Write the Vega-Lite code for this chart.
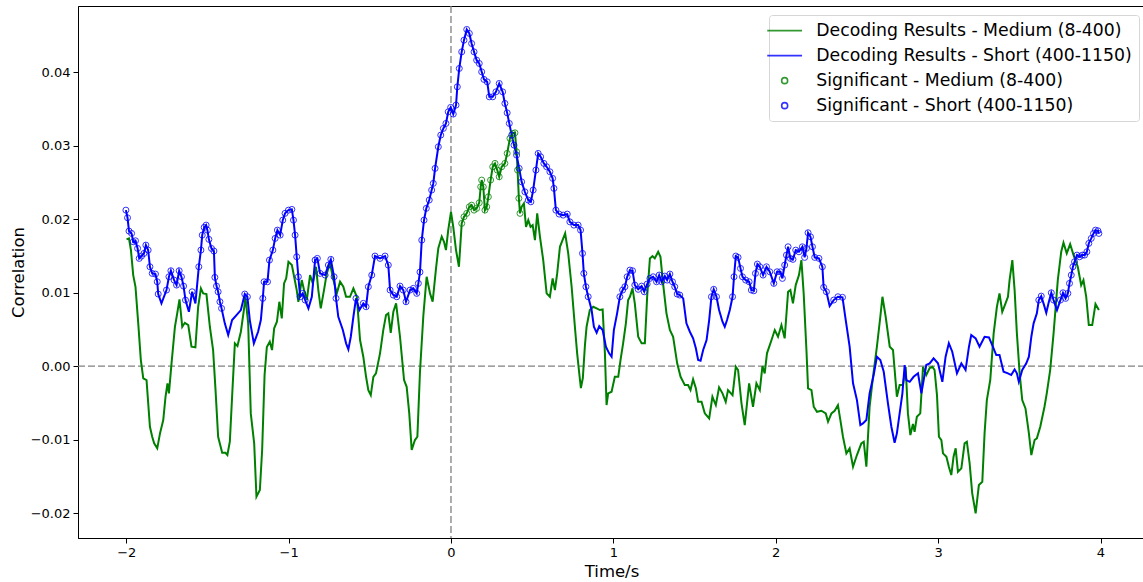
{
"$schema": "https://vega.github.io/schema/vega-lite/v6.json",
"width": 1067,
"height": 532,
"autosize": {"type": "none"},
"padding": {"left": 78, "top": 6, "right": 0, "bottom": 44},
"background": "white",
"config": {
  "view": {"stroke": "black", "strokeWidth": 1},
  "font": "DejaVu Sans",
  "axis": {"domainColor": "black", "tickColor": "black", "labelColor": "black", "titleColor": "black", "labelFont": "DejaVu Sans", "titleFont": "DejaVu Sans", "labelFontSize": 13, "titleFontSize": 16.5, "titleFontWeight": "normal", "grid": false, "tickSize": 5, "labelPadding": 3, "domainWidth": 1, "tickWidth": 1}
},
"datasets": {
"zero": [{"z": 0}],
"med": [
{"t":-1.998,"v":0.01724,"g":0},{"t":-1.983,"v":0.01737,"g":0},{"t":-1.971,"v":0.01578,"g":0},{"t":-1.957,"v":0.01238,"g":0},{"t":-1.943,"v":0.01079,"g":0},{"t":-1.926,"v":0.00581,"g":0},{"t":-1.910,"v":0.00082,"g":0},{"t":-1.895,"v":-0.00167,"g":0},{"t":-1.875,"v":-0.00190,"g":0},{"t":-1.854,"v":-0.00826,"g":0},{"t":-1.840,"v":-0.00962,"g":0},{"t":-1.828,"v":-0.01052,"g":0},{"t":-1.809,"v":-0.01120,"g":0},{"t":-1.792,"v":-0.00916,"g":0},{"t":-1.772,"v":-0.00735,"g":0},{"t":-1.758,"v":-0.00418,"g":0},{"t":-1.746,"v":-0.00235,"g":0},{"t":-1.737,"v":-0.00371,"g":0},{"t":-1.721,"v":0.00037,"g":0},{"t":-1.700,"v":0.00535,"g":0},{"t":-1.686,"v":0.00717,"g":0},{"t":-1.672,"v":0.00907,"g":0},{"t":-1.655,"v":0.00535,"g":0},{"t":-1.639,"v":0.00589,"g":0},{"t":-1.618,"v":0.00558,"g":0},{"t":-1.598,"v":0.00263,"g":0},{"t":-1.574,"v":0.00254,"g":0},{"t":-1.557,"v":0.00807,"g":0},{"t":-1.540,"v":0.01057,"g":0},{"t":-1.526,"v":0.00989,"g":0},{"t":-1.506,"v":0.00980,"g":0},{"t":-1.485,"v":0.00535,"g":0},{"t":-1.465,"v":0.00218,"g":0},{"t":-1.450,"v":-0.00327,"g":0},{"t":-1.434,"v":-0.00962,"g":0},{"t":-1.409,"v":-0.01180,"g":0},{"t":-1.389,"v":-0.01180,"g":0},{"t":-1.377,"v":-0.01211,"g":0},{"t":-1.362,"v":-0.01030,"g":0},{"t":-1.348,"v":-0.00418,"g":0},{"t":-1.331,"v":0.00309,"g":0},{"t":-1.315,"v":0.00272,"g":0},{"t":-1.294,"v":0.00467,"g":0},{"t":-1.274,"v":0.00785,"g":0},{"t":-1.266,"v":0.00943,"g":0},{"t":-1.249,"v":0.00581,"g":0},{"t":-1.233,"v":-0.00644,"g":0},{"t":-1.212,"v":-0.01052,"g":0},{"t":-1.198,"v":-0.01778,"g":0},{"t":-1.177,"v":-0.01687,"g":0},{"t":-1.163,"v":-0.01143,"g":0},{"t":-1.148,"v":-0.00122,"g":0},{"t":-1.134,"v":0.00259,"g":0},{"t":-1.116,"v":0.00331,"g":0},{"t":-1.102,"v":0.00218,"g":0},{"t":-1.089,"v":0.00513,"g":0},{"t":-1.072,"v":0.00603,"g":0},{"t":-1.057,"v":0.00875,"g":0},{"t":-1.042,"v":0.00649,"g":0},{"t":-1.028,"v":0.01125,"g":0},{"t":-1.015,"v":0.01193,"g":0},{"t":-1.001,"v":0.01419,"g":0},{"t":-0.980,"v":0.01374,"g":0},{"t":-0.966,"v":0.01215,"g":0},{"t":-0.950,"v":0.01034,"g":0},{"t":-0.940,"v":0.00875,"g":0},{"t":-0.919,"v":0.01170,"g":0},{"t":-0.905,"v":0.01034,"g":0},{"t":-0.888,"v":0.00898,"g":0},{"t":-0.868,"v":0.01238,"g":0},{"t":-0.851,"v":0.01125,"g":0},{"t":-0.831,"v":0.01351,"g":0},{"t":-0.817,"v":0.01034,"g":0},{"t":-0.802,"v":0.00785,"g":0},{"t":-0.782,"v":0.01034,"g":0},{"t":-0.765,"v":0.01261,"g":0},{"t":-0.745,"v":0.01397,"g":0},{"t":-0.724,"v":0.01170,"g":0},{"t":-0.703,"v":0.00989,"g":0},{"t":-0.683,"v":0.01147,"g":0},{"t":-0.663,"v":0.01079,"g":0},{"t":-0.646,"v":0.00943,"g":0},{"t":-0.622,"v":0.00943,"g":0},{"t":-0.601,"v":0.01057,"g":0},{"t":-0.580,"v":0.00943,"g":0},{"t":-0.560,"v":0.00354,"g":0},{"t":-0.540,"v":0.00127,"g":0},{"t":-0.523,"v":-0.00146,"g":0},{"t":-0.509,"v":-0.00327,"g":0},{"t":-0.494,"v":-0.00395,"g":0},{"t":-0.478,"v":-0.00146,"g":0},{"t":-0.462,"v":-0.00099,"g":0},{"t":-0.437,"v":0.00173,"g":0},{"t":-0.417,"v":0.00490,"g":0},{"t":-0.400,"v":0.00694,"g":0},{"t":-0.386,"v":0.00717,"g":0},{"t":-0.371,"v":0.00453,"g":0},{"t":-0.355,"v":0.00739,"g":0},{"t":-0.338,"v":0.00853,"g":0},{"t":-0.314,"v":0.00399,"g":0},{"t":-0.289,"v":-0.00190,"g":0},{"t":-0.273,"v":-0.00282,"g":0},{"t":-0.257,"v":-0.00644,"g":0},{"t":-0.242,"v":-0.01143,"g":0},{"t":-0.222,"v":-0.01007,"g":0},{"t":-0.207,"v":-0.00962,"g":0},{"t":-0.191,"v":-0.00082,"g":0},{"t":-0.170,"v":0.00694,"g":0},{"t":-0.150,"v":0.01215,"g":0},{"t":-0.129,"v":0.00989,"g":0},{"t":-0.113,"v":0.00875,"g":0},{"t":-0.092,"v":0.01333,"g":0},{"t":-0.078,"v":0.01605,"g":0},{"t":-0.057,"v":0.01762,"g":0},{"t":-0.043,"v":0.01691,"g":0},{"t":-0.031,"v":0.01578,"g":0},{"t":-0.017,"v":0.01850,"g":0},{"t":0.000,"v":0.02099,"g":0},{"t":0.014,"v":0.01895,"g":0},{"t":0.031,"v":0.01578,"g":0},{"t":0.049,"v":0.01351,"g":0},
{"t":0.066,"v":0.01941,"g":1},{"t":0.080,"v":0.02031,"g":1},{"t":0.097,"v":0.02078,"g":1},{"t":0.113,"v":0.02167,"g":1},{"t":0.127,"v":0.02190,"g":1},{"t":0.142,"v":0.02122,"g":1},{"t":0.158,"v":0.02146,"g":1},{"t":0.174,"v":0.02222,"g":1},{"t":0.183,"v":0.02439,"g":1},{"t":0.189,"v":0.02531,"g":1},{"t":0.199,"v":0.02439,"g":1},{"t":0.209,"v":0.02122,"g":1},{"t":0.220,"v":0.02167,"g":1},{"t":0.230,"v":0.02303,"g":1},{"t":0.244,"v":0.02531,"g":1},{"t":0.257,"v":0.02712,"g":1},{"t":0.271,"v":0.02758,"g":1},{"t":0.285,"v":0.02667,"g":1},{"t":0.297,"v":0.02576,"g":1},{"t":0.312,"v":0.02712,"g":1},{"t":0.332,"v":0.02758,"g":1},{"t":0.346,"v":0.02894,"g":1},{"t":0.363,"v":0.03098,"g":1},{"t":0.380,"v":0.03166,"g":1},{"t":0.394,"v":0.03174,"g":1},{"t":0.404,"v":0.02916,"g":1},{"t":0.410,"v":0.02667,"g":1},{"t":0.418,"v":0.02282,"g":1},{"t":0.425,"v":0.02078,"g":1},
{"t":0.435,"v":0.02167,"g":0},{"t":0.449,"v":0.02214,"g":0},{"t":0.462,"v":0.01895,"g":0},{"t":0.476,"v":0.01986,"g":0},{"t":0.490,"v":0.01895,"g":0},{"t":0.503,"v":0.01918,"g":0},{"t":0.517,"v":0.01714,"g":0},{"t":0.531,"v":0.02078,"g":0},{"t":0.548,"v":0.01759,"g":0},{"t":0.568,"v":0.01442,"g":0},{"t":0.589,"v":0.00989,"g":0},{"t":0.609,"v":0.00943,"g":0},{"t":0.626,"v":0.01193,"g":0},{"t":0.640,"v":0.01034,"g":0},{"t":0.654,"v":0.01261,"g":0},{"t":0.671,"v":0.01623,"g":0},{"t":0.687,"v":0.01714,"g":0},{"t":0.703,"v":0.01805,"g":0},{"t":0.722,"v":0.01533,"g":0},{"t":0.743,"v":0.01079,"g":0},{"t":0.763,"v":0.00535,"g":0},{"t":0.777,"v":0.00173,"g":0},{"t":0.791,"v":-0.00122,"g":0},{"t":0.800,"v":-0.00299,"g":0},{"t":0.812,"v":-0.00163,"g":0},{"t":0.825,"v":0.00286,"g":0},{"t":0.835,"v":0.00535,"g":0},{"t":0.855,"v":0.00762,"g":0},{"t":0.876,"v":0.00807,"g":0},{"t":0.897,"v":0.00785,"g":0},{"t":0.917,"v":0.00762,"g":0},{"t":0.934,"v":0.00771,"g":0},{"t":0.948,"v":0.00173,"g":0},{"t":0.958,"v":-0.00531,"g":0},{"t":0.968,"v":-0.00371,"g":0},{"t":0.989,"v":-0.00350,"g":0},{"t":1.009,"v":-0.00146,"g":0},{"t":1.030,"v":-0.00146,"g":0},{"t":1.044,"v":0.00082,"g":0},{"t":1.060,"v":0.00309,"g":0},{"t":1.077,"v":0.00581,"g":0},{"t":1.091,"v":0.00898,"g":0},{"t":1.102,"v":0.00943,"g":0},{"t":1.118,"v":0.01057,"g":0},{"t":1.132,"v":0.00853,"g":0},{"t":1.153,"v":0.00399,"g":0},{"t":1.174,"v":0.00309,"g":0},{"t":1.194,"v":0.00309,"g":0},{"t":1.208,"v":0.00943,"g":0},{"t":1.225,"v":0.01465,"g":0},{"t":1.241,"v":0.01497,"g":0},{"t":1.255,"v":0.01465,"g":0},{"t":1.276,"v":0.01555,"g":0},{"t":1.290,"v":0.01487,"g":0},{"t":1.306,"v":0.01125,"g":0},{"t":1.327,"v":0.00717,"g":0},{"t":1.348,"v":0.00490,"g":0},{"t":1.368,"v":0.00399,"g":0},{"t":1.393,"v":0.00037,"g":0},{"t":1.414,"v":-0.00146,"g":0},{"t":1.440,"v":-0.00259,"g":0},{"t":1.460,"v":-0.00259,"g":0},{"t":1.475,"v":-0.00327,"g":0},{"t":1.491,"v":-0.00181,"g":0},{"t":1.508,"v":-0.00303,"g":0},{"t":1.522,"v":-0.00486,"g":0},{"t":1.543,"v":-0.00486,"g":0},{"t":1.563,"v":-0.00644,"g":0},{"t":1.590,"v":-0.00712,"g":0},{"t":1.610,"v":-0.00418,"g":0},{"t":1.631,"v":-0.00531,"g":0},{"t":1.651,"v":-0.00290,"g":0},{"t":1.672,"v":-0.00371,"g":0},{"t":1.692,"v":-0.00486,"g":0},{"t":1.706,"v":-0.00327,"g":0},{"t":1.734,"v":-0.00395,"g":0},{"t":1.754,"v":-0.00010,"g":0},{"t":1.768,"v":-0.00054,"g":0},{"t":1.789,"v":-0.00507,"g":0},{"t":1.809,"v":-0.00803,"g":0},{"t":1.836,"v":-0.00235,"g":0},{"t":1.860,"v":-0.00554,"g":0},{"t":1.881,"v":-0.00235,"g":0},{"t":1.902,"v":-0.00327,"g":0},{"t":1.918,"v":0.00000,"g":0},{"t":1.932,"v":-0.00099,"g":0},{"t":1.946,"v":0.00173,"g":0},{"t":1.974,"v":0.00354,"g":0},{"t":1.994,"v":0.00490,"g":0},{"t":2.014,"v":0.00399,"g":0},{"t":2.035,"v":0.00558,"g":0},{"t":2.055,"v":0.00377,"g":0},{"t":2.076,"v":0.01011,"g":0},{"t":2.090,"v":0.01034,"g":0},{"t":2.106,"v":0.00853,"g":0},{"t":2.123,"v":0.01102,"g":0},{"t":2.143,"v":0.01238,"g":0},{"t":2.158,"v":0.01442,"g":0},{"t":2.172,"v":0.00989,"g":0},{"t":2.189,"v":0.00218,"g":0},{"t":2.199,"v":-0.00303,"g":0},{"t":2.220,"v":-0.00327,"g":0},{"t":2.234,"v":-0.00554,"g":0},{"t":2.254,"v":-0.00622,"g":0},{"t":2.281,"v":-0.00608,"g":0},{"t":2.308,"v":-0.00644,"g":0},{"t":2.322,"v":-0.00758,"g":0},{"t":2.343,"v":-0.00644,"g":0},{"t":2.363,"v":-0.00608,"g":0},{"t":2.383,"v":-0.00531,"g":0},{"t":2.398,"v":-0.00735,"g":0},{"t":2.414,"v":-0.00962,"g":0},{"t":2.435,"v":-0.01188,"g":0},{"t":2.455,"v":-0.01120,"g":0},{"t":2.476,"v":-0.01370,"g":0},{"t":2.500,"v":-0.01211,"g":0},{"t":2.527,"v":-0.01052,"g":0},{"t":2.542,"v":-0.01030,"g":0},{"t":2.558,"v":-0.01370,"g":0},{"t":2.578,"v":-0.00554,"g":0},{"t":2.599,"v":-0.00146,"g":0},{"t":2.623,"v":0.00263,"g":0},{"t":2.644,"v":0.00671,"g":0},{"t":2.657,"v":0.00943,"g":0},{"t":2.677,"v":0.00671,"g":0},{"t":2.702,"v":0.00263,"g":0},{"t":2.722,"v":0.00218,"g":0},{"t":2.746,"v":-0.00418,"g":0},{"t":2.763,"v":-0.00259,"g":0},{"t":2.783,"v":-0.00259,"g":0},{"t":2.800,"v":-0.00010,"g":0},{"t":2.814,"v":-0.00644,"g":0},{"t":2.829,"v":-0.00939,"g":0},{"t":2.845,"v":-0.00789,"g":0},{"t":2.855,"v":-0.00894,"g":0},{"t":2.869,"v":-0.00690,"g":0},{"t":2.890,"v":-0.00644,"g":0},{"t":2.907,"v":-0.00010,"g":0},{"t":2.927,"v":-0.00122,"g":0},{"t":2.948,"v":-0.00027,"g":0},{"t":2.965,"v":-0.00010,"g":0},{"t":2.978,"v":-0.00054,"g":0},{"t":2.993,"v":-0.00395,"g":0},{"t":3.005,"v":-0.00962,"g":0},{"t":3.020,"v":-0.01007,"g":0},{"t":3.030,"v":-0.01188,"g":0},{"t":3.051,"v":-0.01234,"g":0},{"t":3.066,"v":-0.01370,"g":0},{"t":3.081,"v":-0.01483,"g":0},{"t":3.095,"v":-0.01234,"g":0},{"t":3.108,"v":-0.01120,"g":0},{"t":3.122,"v":-0.01438,"g":0},{"t":3.143,"v":-0.01392,"g":0},{"t":3.163,"v":-0.01052,"g":0},{"t":3.177,"v":-0.01030,"g":0},{"t":3.194,"v":-0.01324,"g":0},{"t":3.210,"v":-0.01732,"g":0},{"t":3.231,"v":-0.02004,"g":0},{"t":3.251,"v":-0.01619,"g":0},{"t":3.272,"v":-0.01574,"g":0},{"t":3.286,"v":-0.00916,"g":0},{"t":3.300,"v":-0.00463,"g":0},{"t":3.321,"v":-0.00190,"g":0},{"t":3.342,"v":0.00445,"g":0},{"t":3.362,"v":0.00807,"g":0},{"t":3.378,"v":0.00989,"g":0},{"t":3.395,"v":0.00739,"g":0},{"t":3.415,"v":0.00853,"g":0},{"t":3.430,"v":0.00943,"g":0},{"t":3.440,"v":0.01170,"g":0},{"t":3.457,"v":0.01442,"g":0},{"t":3.471,"v":0.01034,"g":0},{"t":3.485,"v":0.00445,"g":0},{"t":3.502,"v":-0.00099,"g":0},{"t":3.518,"v":-0.00463,"g":0},{"t":3.538,"v":-0.00576,"g":0},{"t":3.559,"v":-0.00916,"g":0},{"t":3.574,"v":-0.01211,"g":0},{"t":3.594,"v":-0.01007,"g":0},{"t":3.608,"v":-0.00984,"g":0},{"t":3.629,"v":-0.00826,"g":0},{"t":3.655,"v":-0.00554,"g":0},{"t":3.669,"v":-0.00371,"g":0},{"t":3.690,"v":-0.00054,"g":0},{"t":3.711,"v":0.00445,"g":0},{"t":3.737,"v":0.01170,"g":0},{"t":3.758,"v":0.01555,"g":0},{"t":3.772,"v":0.01678,"g":0},{"t":3.792,"v":0.01533,"g":0},{"t":3.813,"v":0.01660,"g":0},{"t":3.834,"v":0.01510,"g":0},{"t":3.860,"v":0.01351,"g":0},{"t":3.881,"v":0.01102,"g":0},{"t":3.895,"v":0.01170,"g":0},{"t":3.912,"v":0.00943,"g":0},{"t":3.928,"v":0.00558,"g":0},{"t":3.949,"v":0.00558,"g":0},{"t":3.969,"v":0.00844,"g":0},{"t":3.990,"v":0.00762,"g":0}
],
"sho": [
{"t":-2.002,"v":0.02122,"g":1},{"t":-1.992,"v":0.02018,"g":1},{"t":-1.983,"v":0.01837,"g":1},{"t":-1.967,"v":0.01805,"g":1},{"t":-1.957,"v":0.01691,"g":1},{"t":-1.943,"v":0.01705,"g":1},{"t":-1.930,"v":0.01601,"g":1},{"t":-1.920,"v":0.01465,"g":1},{"t":-1.906,"v":0.01497,"g":1},{"t":-1.891,"v":0.01533,"g":1},{"t":-1.879,"v":0.01646,"g":1},{"t":-1.865,"v":0.01578,"g":1},{"t":-1.854,"v":0.01351,"g":1},{"t":-1.840,"v":0.01261,"g":1},{"t":-1.820,"v":0.01252,"g":1},{"t":-1.809,"v":0.01147,"g":1},{"t":-1.803,"v":0.00980,"g":1},{"t":-1.783,"v":0.00853,"g":0},{"t":-1.752,"v":0.01034,"g":1},{"t":-1.737,"v":0.01215,"g":1},{"t":-1.725,"v":0.01297,"g":1},{"t":-1.705,"v":0.01170,"g":1},{"t":-1.690,"v":0.01102,"g":1},{"t":-1.674,"v":0.01297,"g":1},{"t":-1.660,"v":0.01215,"g":1},{"t":-1.647,"v":0.01088,"g":1},{"t":-1.635,"v":0.00898,"g":1},{"t":-1.614,"v":0.00739,"g":0},{"t":-1.594,"v":0.01011,"g":1},{"t":-1.574,"v":0.00853,"g":0},{"t":-1.553,"v":0.01351,"g":1},{"t":-1.540,"v":0.01578,"g":1},{"t":-1.532,"v":0.01782,"g":1},{"t":-1.520,"v":0.01887,"g":1},{"t":-1.508,"v":0.01918,"g":1},{"t":-1.500,"v":0.01850,"g":1},{"t":-1.491,"v":0.01724,"g":1},{"t":-1.475,"v":0.01601,"g":1},{"t":-1.460,"v":0.01565,"g":1},{"t":-1.454,"v":0.01207,"g":1},{"t":-1.444,"v":0.01088,"g":1},{"t":-1.434,"v":0.01011,"g":1},{"t":-1.423,"v":0.00875,"g":1},{"t":-1.413,"v":0.00785,"g":1},{"t":-1.393,"v":0.00581,"g":0},{"t":-1.372,"v":0.00422,"g":0},{"t":-1.348,"v":0.00626,"g":0},{"t":-1.321,"v":0.00694,"g":0},{"t":-1.294,"v":0.00762,"g":0},{"t":-1.270,"v":0.00980,"g":1},{"t":-1.254,"v":0.00943,"g":1},{"t":-1.239,"v":0.00626,"g":0},{"t":-1.214,"v":0.00309,"g":0},{"t":-1.188,"v":0.00467,"g":0},{"t":-1.171,"v":0.00626,"g":0},{"t":-1.159,"v":0.00921,"g":1},{"t":-1.151,"v":0.01147,"g":1},{"t":-1.130,"v":0.01147,"g":1},{"t":-1.118,"v":0.01442,"g":1},{"t":-1.097,"v":0.01578,"g":1},{"t":-1.083,"v":0.01737,"g":1},{"t":-1.069,"v":0.01850,"g":1},{"t":-1.052,"v":0.01782,"g":1},{"t":-1.036,"v":0.01986,"g":1},{"t":-1.022,"v":0.02078,"g":1},{"t":-1.001,"v":0.02122,"g":1},{"t":-0.980,"v":0.02132,"g":1},{"t":-0.970,"v":0.01986,"g":1},{"t":-0.960,"v":0.01782,"g":1},{"t":-0.950,"v":0.01487,"g":1},{"t":-0.940,"v":0.01215,"g":1},{"t":-0.929,"v":0.00943,"g":1},{"t":-0.913,"v":0.00989,"g":1},{"t":-0.898,"v":0.00898,"g":1},{"t":-0.878,"v":0.00785,"g":0},{"t":-0.857,"v":0.00943,"g":0},{"t":-0.837,"v":0.01442,"g":1},{"t":-0.823,"v":0.01465,"g":1},{"t":-0.806,"v":0.01261,"g":1},{"t":-0.775,"v":0.01238,"g":1},{"t":-0.755,"v":0.01374,"g":1},{"t":-0.740,"v":0.01452,"g":1},{"t":-0.720,"v":0.01215,"g":1},{"t":-0.708,"v":0.00921,"g":1},{"t":-0.694,"v":0.00671,"g":0},{"t":-0.666,"v":0.00490,"g":0},{"t":-0.646,"v":0.00309,"g":0},{"t":-0.632,"v":0.00227,"g":0},{"t":-0.617,"v":0.00399,"g":0},{"t":-0.601,"v":0.00671,"g":0},{"t":-0.585,"v":0.00921,"g":1},{"t":-0.564,"v":0.00762,"g":0},{"t":-0.540,"v":0.00853,"g":1},{"t":-0.523,"v":0.00807,"g":1},{"t":-0.509,"v":0.01079,"g":1},{"t":-0.488,"v":0.01238,"g":1},{"t":-0.468,"v":0.01497,"g":1},{"t":-0.437,"v":0.01465,"g":1},{"t":-0.406,"v":0.01497,"g":1},{"t":-0.386,"v":0.01374,"g":1},{"t":-0.375,"v":0.01034,"g":1},{"t":-0.355,"v":0.00966,"g":1},{"t":-0.334,"v":0.00943,"g":1},{"t":-0.314,"v":0.01088,"g":1},{"t":-0.294,"v":0.01034,"g":1},{"t":-0.277,"v":0.00875,"g":1},{"t":-0.252,"v":0.01034,"g":1},{"t":-0.232,"v":0.01057,"g":1},{"t":-0.211,"v":0.00989,"g":1},{"t":-0.201,"v":0.01125,"g":1},{"t":-0.191,"v":0.01279,"g":1},{"t":-0.180,"v":0.01714,"g":1},{"t":-0.166,"v":0.01986,"g":1},{"t":-0.152,"v":0.02146,"g":1},{"t":-0.134,"v":0.02259,"g":1},{"t":-0.119,"v":0.02395,"g":1},{"t":-0.109,"v":0.02486,"g":1},{"t":-0.098,"v":0.02690,"g":1},{"t":-0.078,"v":0.02984,"g":1},{"t":-0.063,"v":0.03143,"g":1},{"t":-0.047,"v":0.03234,"g":1},{"t":-0.031,"v":0.03302,"g":1},{"t":-0.017,"v":0.03460,"g":1},{"t":-0.002,"v":0.03520,"g":1},{"t":0.014,"v":0.03429,"g":1},{"t":0.031,"v":0.03551,"g":1},{"t":0.039,"v":0.03800,"g":1},{"t":0.051,"v":0.04050,"g":1},{"t":0.066,"v":0.04276,"g":1},{"t":0.080,"v":0.04435,"g":1},{"t":0.097,"v":0.04581,"g":1},{"t":0.113,"v":0.04527,"g":1},{"t":0.127,"v":0.04390,"g":1},{"t":0.142,"v":0.04276,"g":1},{"t":0.158,"v":0.04163,"g":1},{"t":0.174,"v":0.04118,"g":1},{"t":0.189,"v":0.04004,"g":1},{"t":0.203,"v":0.03901,"g":1},{"t":0.223,"v":0.03868,"g":1},{"t":0.236,"v":0.03664,"g":1},{"t":0.257,"v":0.03664,"g":1},{"t":0.277,"v":0.03732,"g":1},{"t":0.297,"v":0.03846,"g":1},{"t":0.318,"v":0.03732,"g":1},{"t":0.332,"v":0.03574,"g":1},{"t":0.346,"v":0.03446,"g":1},{"t":0.359,"v":0.03302,"g":1},{"t":0.374,"v":0.03143,"g":1},{"t":0.388,"v":0.03007,"g":1},{"t":0.404,"v":0.02871,"g":1},{"t":0.420,"v":0.02690,"g":1},{"t":0.435,"v":0.02507,"g":1},{"t":0.455,"v":0.02371,"g":1},{"t":0.476,"v":0.02259,"g":1},{"t":0.492,"v":0.02235,"g":1},{"t":0.506,"v":0.02395,"g":1},{"t":0.523,"v":0.02667,"g":1},{"t":0.537,"v":0.02894,"g":1},{"t":0.552,"v":0.02848,"g":1},{"t":0.572,"v":0.02758,"g":1},{"t":0.589,"v":0.02712,"g":1},{"t":0.609,"v":0.02644,"g":1},{"t":0.626,"v":0.02554,"g":1},{"t":0.634,"v":0.02418,"g":1},{"t":0.646,"v":0.02122,"g":1},{"t":0.666,"v":0.02068,"g":1},{"t":0.691,"v":0.02054,"g":1},{"t":0.716,"v":0.02068,"g":1},{"t":0.732,"v":0.01963,"g":1},{"t":0.757,"v":0.01918,"g":1},{"t":0.783,"v":0.01918,"g":1},{"t":0.798,"v":0.01850,"g":1},{"t":0.810,"v":0.01533,"g":1},{"t":0.818,"v":0.01261,"g":1},{"t":0.831,"v":0.01079,"g":1},{"t":0.845,"v":0.00943,"g":1},{"t":0.866,"v":0.00762,"g":0},{"t":0.880,"v":0.00535,"g":0},{"t":0.897,"v":0.00453,"g":0},{"t":0.913,"v":0.00544,"g":0},{"t":0.934,"v":0.00490,"g":0},{"t":0.954,"v":0.00263,"g":0},{"t":0.974,"v":0.00173,"g":0},{"t":0.989,"v":0.00127,"g":0},{"t":1.003,"v":0.00490,"g":0},{"t":1.023,"v":0.00717,"g":0},{"t":1.040,"v":0.00943,"g":1},{"t":1.057,"v":0.01034,"g":1},{"t":1.071,"v":0.01079,"g":1},{"t":1.085,"v":0.01215,"g":1},{"t":1.102,"v":0.01306,"g":1},{"t":1.118,"v":0.01297,"g":1},{"t":1.132,"v":0.01102,"g":1},{"t":1.153,"v":0.01044,"g":1},{"t":1.174,"v":0.01088,"g":1},{"t":1.190,"v":0.01011,"g":1},{"t":1.208,"v":0.01116,"g":1},{"t":1.225,"v":0.01193,"g":1},{"t":1.245,"v":0.01215,"g":1},{"t":1.266,"v":0.01147,"g":1},{"t":1.282,"v":0.01238,"g":1},{"t":1.297,"v":0.01147,"g":1},{"t":1.317,"v":0.01224,"g":1},{"t":1.331,"v":0.01170,"g":1},{"t":1.348,"v":0.01252,"g":1},{"t":1.364,"v":0.01147,"g":1},{"t":1.378,"v":0.01079,"g":1},{"t":1.393,"v":0.00980,"g":1},{"t":1.409,"v":0.00966,"g":1},{"t":1.430,"v":0.00921,"g":0},{"t":1.450,"v":0.00581,"g":0},{"t":1.471,"v":0.00467,"g":0},{"t":1.491,"v":0.00377,"g":0},{"t":1.508,"v":0.00241,"g":0},{"t":1.522,"v":0.00082,"g":0},{"t":1.537,"v":0.00072,"g":0},{"t":1.553,"v":0.00218,"g":0},{"t":1.574,"v":0.00354,"g":0},{"t":1.590,"v":0.00626,"g":0},{"t":1.604,"v":0.00943,"g":1},{"t":1.618,"v":0.01044,"g":1},{"t":1.635,"v":0.00943,"g":1},{"t":1.651,"v":0.00762,"g":0},{"t":1.672,"v":0.00603,"g":0},{"t":1.686,"v":0.00535,"g":0},{"t":1.700,"v":0.00626,"g":0},{"t":1.717,"v":0.00762,"g":0},{"t":1.734,"v":0.00943,"g":1},{"t":1.743,"v":0.01215,"g":1},{"t":1.754,"v":0.01497,"g":1},{"t":1.768,"v":0.01479,"g":1},{"t":1.783,"v":0.01329,"g":1},{"t":1.795,"v":0.01215,"g":1},{"t":1.815,"v":0.01170,"g":1},{"t":1.836,"v":0.01147,"g":1},{"t":1.850,"v":0.01034,"g":1},{"t":1.865,"v":0.01024,"g":1},{"t":1.875,"v":0.01261,"g":1},{"t":1.887,"v":0.01388,"g":1},{"t":1.902,"v":0.01351,"g":1},{"t":1.922,"v":0.01238,"g":1},{"t":1.943,"v":0.01351,"g":1},{"t":1.963,"v":0.01283,"g":1},{"t":1.988,"v":0.01125,"g":1},{"t":2.008,"v":0.01283,"g":1},{"t":2.029,"v":0.01283,"g":1},{"t":2.041,"v":0.01193,"g":1},{"t":2.055,"v":0.01374,"g":1},{"t":2.066,"v":0.01510,"g":1},{"t":2.076,"v":0.01623,"g":1},{"t":2.090,"v":0.01465,"g":1},{"t":2.106,"v":0.01452,"g":1},{"t":2.123,"v":0.01578,"g":1},{"t":2.143,"v":0.01555,"g":1},{"t":2.164,"v":0.01623,"g":1},{"t":2.178,"v":0.01479,"g":1},{"t":2.189,"v":0.01601,"g":1},{"t":2.199,"v":0.01814,"g":1},{"t":2.214,"v":0.01759,"g":1},{"t":2.226,"v":0.01623,"g":1},{"t":2.240,"v":0.01479,"g":1},{"t":2.266,"v":0.01465,"g":1},{"t":2.287,"v":0.01351,"g":1},{"t":2.295,"v":0.01071,"g":1},{"t":2.312,"v":0.01011,"g":1},{"t":2.332,"v":0.00816,"g":0},{"t":2.357,"v":0.00898,"g":1},{"t":2.383,"v":0.00943,"g":1},{"t":2.411,"v":0.00935,"g":1},{"t":2.431,"v":0.00626,"g":0},{"t":2.455,"v":0.00263,"g":0},{"t":2.476,"v":-0.00235,"g":0},{"t":2.500,"v":-0.00463,"g":0},{"t":2.521,"v":-0.00803,"g":0},{"t":2.537,"v":-0.00780,"g":0},{"t":2.558,"v":-0.00735,"g":0},{"t":2.578,"v":-0.00371,"g":0},{"t":2.603,"v":-0.00122,"g":0},{"t":2.623,"v":0.00127,"g":0},{"t":2.644,"v":0.00082,"g":0},{"t":2.665,"v":-0.00078,"g":0},{"t":2.691,"v":-0.00507,"g":0},{"t":2.712,"v":-0.00826,"g":0},{"t":2.732,"v":-0.01044,"g":0},{"t":2.746,"v":-0.00916,"g":0},{"t":2.763,"v":-0.00644,"g":0},{"t":2.780,"v":-0.00371,"g":0},{"t":2.794,"v":0.00014,"g":0},{"t":2.804,"v":-0.00190,"g":0},{"t":2.825,"v":-0.00214,"g":0},{"t":2.849,"v":-0.00146,"g":0},{"t":2.876,"v":-0.00099,"g":0},{"t":2.897,"v":-0.00371,"g":0},{"t":2.911,"v":-0.00190,"g":0},{"t":2.927,"v":0.00014,"g":0},{"t":2.948,"v":0.00037,"g":0},{"t":2.972,"v":0.00105,"g":0},{"t":2.999,"v":0.00037,"g":0},{"t":3.026,"v":-0.00214,"g":0},{"t":3.046,"v":0.00127,"g":0},{"t":3.066,"v":0.00309,"g":0},{"t":3.087,"v":0.00195,"g":0},{"t":3.116,"v":-0.00099,"g":0},{"t":3.143,"v":0.00037,"g":0},{"t":3.169,"v":-0.00054,"g":0},{"t":3.190,"v":0.00263,"g":0},{"t":3.204,"v":0.00422,"g":0},{"t":3.231,"v":0.00377,"g":0},{"t":3.255,"v":0.00263,"g":0},{"t":3.286,"v":0.00399,"g":0},{"t":3.313,"v":0.00390,"g":0},{"t":3.337,"v":0.00263,"g":0},{"t":3.358,"v":0.00150,"g":0},{"t":3.378,"v":0.00150,"g":0},{"t":3.403,"v":-0.00078,"g":0},{"t":3.430,"v":-0.00099,"g":0},{"t":3.450,"v":-0.00122,"g":0},{"t":3.471,"v":-0.00045,"g":0},{"t":3.485,"v":-0.00099,"g":0},{"t":3.497,"v":-0.00214,"g":0},{"t":3.518,"v":-0.00054,"g":0},{"t":3.543,"v":0.00037,"g":0},{"t":3.559,"v":0.00127,"g":0},{"t":3.574,"v":0.00399,"g":0},{"t":3.588,"v":0.00581,"g":0},{"t":3.608,"v":0.00717,"g":0},{"t":3.620,"v":0.00898,"g":1},{"t":3.635,"v":0.00952,"g":1},{"t":3.649,"v":0.00853,"g":0},{"t":3.666,"v":0.00725,"g":0},{"t":3.682,"v":0.00875,"g":0},{"t":3.697,"v":0.00997,"g":1},{"t":3.711,"v":0.00898,"g":1},{"t":3.732,"v":0.00762,"g":0},{"t":3.753,"v":0.00898,"g":1},{"t":3.769,"v":0.00997,"g":1},{"t":3.785,"v":0.00921,"g":1},{"t":3.799,"v":0.00989,"g":1},{"t":3.809,"v":0.01125,"g":1},{"t":3.820,"v":0.01238,"g":1},{"t":3.830,"v":0.01351,"g":1},{"t":3.840,"v":0.01419,"g":1},{"t":3.855,"v":0.01510,"g":1},{"t":3.871,"v":0.01487,"g":1},{"t":3.888,"v":0.01510,"g":1},{"t":3.902,"v":0.01510,"g":1},{"t":3.916,"v":0.01555,"g":1},{"t":3.928,"v":0.01669,"g":1},{"t":3.943,"v":0.01737,"g":1},{"t":3.957,"v":0.01805,"g":1},{"t":3.969,"v":0.01850,"g":1},{"t":3.984,"v":0.01841,"g":1},{"t":3.990,"v":0.01805,"g":1}
]
},
"layer": [
  {"data": {"name": "zero"}, "mark": {"type": "rule", "color": "#808080", "strokeDash": [7, 3], "strokeWidth": 1.3},
   "encoding": {"y": {"field": "z", "type": "quantitative", "scale": {"domain": [-0.0234, 0.049], "nice": false, "zero": false}, "axis": {"values": [-0.02, -0.01, 0, 0.01, 0.02, 0.03, 0.04], "format": ".2f", "title": "Correlation"}}}},
  {"data": {"name": "zero"}, "mark": {"type": "rule", "color": "#808080", "strokeDash": [7, 3], "strokeWidth": 1.3},
   "encoding": {"x": {"field": "z", "type": "quantitative", "scale": {"domain": [-2.297, 4.274], "nice": false, "zero": false}, "axis": {"values": [-2, -1, 0, 1, 2, 3, 4], "format": "d", "title": "Time/s"}}}},
  {"data": {"name": "med"}, "mark": {"type": "line", "strokeWidth": 2, "clip": true},
   "encoding": {
     "x": {"field": "t", "type": "quantitative", "scale": {"domain": [-2.297, 4.274], "nice": false, "zero": false}, "axis": {"values": [-2, -1, 0, 1, 2, 3, 4], "format": "d", "title": "Time/s"}},
     "y": {"field": "v", "type": "quantitative", "scale": {"domain": [-0.0234, 0.049], "nice": false, "zero": false}, "axis": {"values": [-0.02, -0.01, 0, 0.01, 0.02, 0.03, 0.04], "format": ".2f", "title": "Correlation"}},
     "color": {"datum": "Decoding Results - Medium (8-400)", "type": "nominal",
       "scale": {"domain": ["Decoding Results - Medium (8-400)", "Decoding Results - Short (400-1150)", "Significant - Medium (8-400)", "Significant - Short (400-1150)"], "range": ["#008000", "#0000ff", "#008000", "#0000ff"]},
       "legend": {"title": null, "orient": "none", "legendX": 691, "legendY": 9, "symbolSize": 36, "symbolStrokeWidth": 1.6, "symbolOpacity": 1, "symbolFillColor": "transparent", "labelFontSize": 17.3, "labelFont": "DejaVu Sans", "labelColor": "black", "labelOffset": 23, "rowPadding": 7, "padding": 7, "strokeColor": "#d6d6d6", "fillColor": "white", "cornerRadius": 3, "labelLimit": 400}}
   }},
  {"data": {"name": "sho"}, "mark": {"type": "line", "strokeWidth": 2, "clip": true},
   "encoding": {"x": {"field": "t", "type": "quantitative"}, "y": {"field": "v", "type": "quantitative"}, "color": {"datum": "Decoding Results - Short (400-1150)", "type": "nominal"}}},
  {"data": {"name": "med"}, "transform": [{"filter": "datum.g == 1"}], "mark": {"type": "point", "filled": false, "size": 36, "strokeWidth": 1, "opacity": 0.8, "clip": true},
   "encoding": {"x": {"field": "t", "type": "quantitative"}, "y": {"field": "v", "type": "quantitative"}, "color": {"datum": "Significant - Medium (8-400)", "type": "nominal"},
     "shape": {"datum": "Significant - Medium (8-400)", "type": "nominal",
       "scale": {"domain": ["Decoding Results - Medium (8-400)", "Decoding Results - Short (400-1150)", "Significant - Medium (8-400)", "Significant - Short (400-1150)"], "range": ["M-5.8,0L5.8,0", "M-5.8,0L5.8,0", "circle", "circle"]}}}},
  {"data": {"name": "sho"}, "transform": [{"filter": "datum.g == 1"}], "mark": {"type": "point", "filled": false, "size": 36, "strokeWidth": 1, "opacity": 0.8, "clip": true},
   "encoding": {"x": {"field": "t", "type": "quantitative"}, "y": {"field": "v", "type": "quantitative"}, "color": {"datum": "Significant - Short (400-1150)", "type": "nominal"},
     "shape": {"datum": "Significant - Short (400-1150)", "type": "nominal"}}}
]
}
